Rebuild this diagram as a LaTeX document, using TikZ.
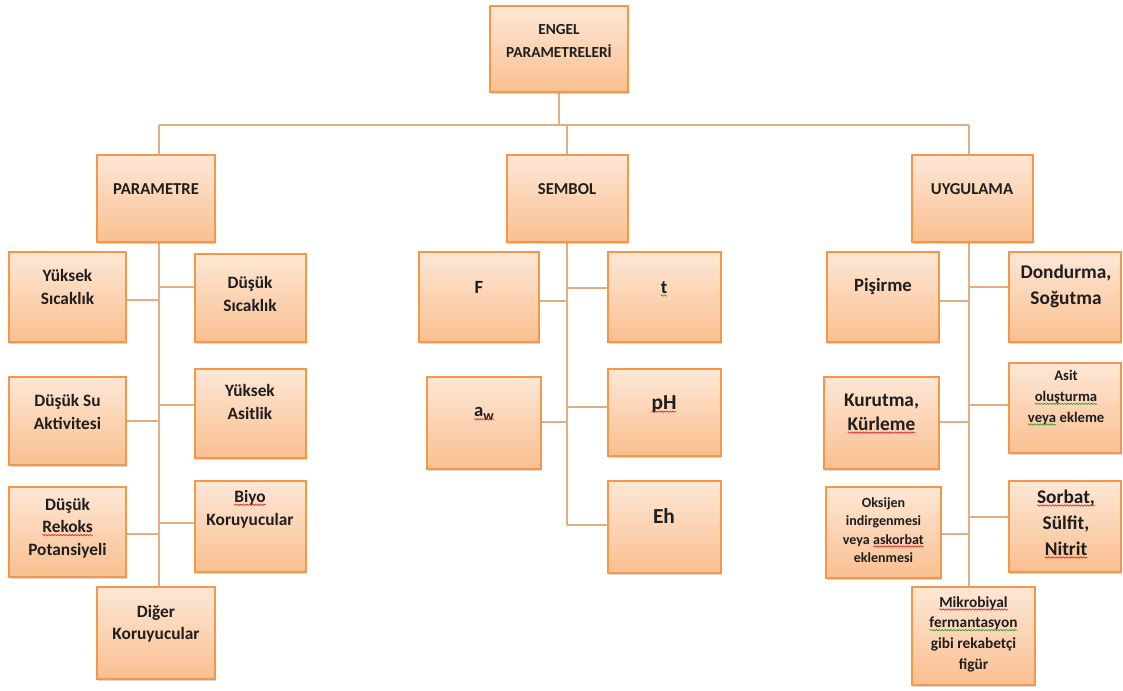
\documentclass[tikz,border=0pt]{standalone}
\usepackage{fontspec}
\setmainfont{Carlito}
\usetikzlibrary{shadows,calc,backgrounds,decorations.pathmorphing}
\definecolor{bord}{HTML}{F79646}
\definecolor{ftop}{HTML}{FDE7D6}
\definecolor{fbot}{HTML}{FABF8F}
\definecolor{lncol}{HTML}{E3AE85}
\definecolor{txt}{HTML}{1E1E1E}
\definecolor{sqred}{HTML}{E0262A}
\definecolor{sqgreen}{HTML}{3A9A2E}
\tikzset{
  bx/.style={rectangle, draw=bord, line width=1.1pt, top color=ftop, bottom color=fbot, inner sep=0pt,
    drop shadow={shadow xshift=0.6pt, shadow yshift=-1.8pt, opacity=0.3}},
  lbl/.style={text=txt, align=center, inner sep=0pt},
  ln/.style={draw=lncol, line width=1.5pt},
}
\newcommand\mybox[5]{\node[bx, minimum width={(#4-#2)*0.75pt}, minimum height={(#5-#3)*0.75pt}] (#1) at ({(#2+#4)/2},{(#3+#5)/2}) {};}
\newcommand\mytext[6]{\node[lbl, font=\bfseries\fontsize{#4}{#5}\selectfont] (#1) at (#2,#3) {#6};}
\newcommand\sq[2][sqred]{\tikz[baseline=(w.base)]{\node[inner sep=0pt,outer sep=0pt,anchor=base](w){#2};\draw[#1,line width=0.5pt,decorate,decoration={snake,amplitude=0.5pt,segment length=2.2pt}]([yshift=-1.8pt]w.base west)--([yshift=-1.8pt]w.base east);}}
\begin{document}
\begin{tikzpicture}[x=0.75pt,y=-0.75pt]
\useasboundingbox (0,0) rectangle (1123,691);
% boxes
\mybox{root}{490}{6}{628}{92}
\mybox{param}{97}{155}{215}{242}
\mybox{sembol}{507}{155}{628}{242}
\mybox{uyg}{912}{155}{1033}{242}
\mybox{ys}{9}{252}{126}{342}
\mybox{ds}{195}{254}{306}{342}
\mybox{dsu}{9}{377}{126}{465}
\mybox{ya}{195}{369}{306}{458}
\mybox{dr}{9}{487}{126}{577}
\mybox{bk}{195}{481}{306}{572}
\mybox{dk}{97}{587}{215}{679}
\mybox{F}{419}{252}{539}{342}
\mybox{t}{608}{252}{721}{342}
\mybox{aw}{427}{377}{541}{469}
\mybox{ph}{608}{369}{721}{456}
\mybox{eh}{608}{481}{721}{573}
\mybox{pis}{827}{252}{939}{342}
\mybox{don}{1009}{252}{1121}{342}
\mybox{kur}{824}{377}{939}{469}
\mybox{asit}{1009}{363}{1121}{453}
\mybox{oks}{826}{487}{941}{578}
\mybox{sor}{1009}{481}{1121}{572}
\mybox{mik}{912}{587}{1035}{685}
% texts
\mytext{troot}{559}{41}{11.5}{17}{ENGEL\\PARAMETRELERİ}
\mytext{tparam}{156}{189}{12.5}{17}{PARAMETRE}
\mytext{tsembol}{567}{189}{12.5}{17}{SEMBOL}
\mytext{tuyg}{972}{189}{12.5}{17}{UYGULAMA}
\mytext{tys}{67.5}{287}{13}{17}{Yüksek\\Sıcaklık}
\mytext{tds}{250}{294}{13}{17}{Düşük\\Sıcaklık}
\mytext{tdsu}{67.5}{412}{13}{17}{Düşük Su\\Aktivitesi}
\mytext{tya}{250}{402}{13}{17}{Yüksek\\Asitlik}
\mytext{tdr}{67.5}{528}{13}{17}{Düşük\\\sq{Rekoks}\\Potansiyeli}
\mytext{tbk}{250}{509}{13}{17}{\sq{Biyo}\\Koruyucular}
\mytext{tdk}{156}{624}{13}{16.5}{Diğer\\Koruyucular}
\mytext{tF}{479}{287}{14}{17}{F}
\mytext{tt}{664}{289}{14}{17}{\sq[sqgreen]{t}}
\mytext{taw}{484}{414}{14}{17}{\sq{a\raisebox{-2.5pt}{\fontsize{10.5}{12}\selectfont w}}}
\mytext{tph}{664}{404}{16}{17}{\sq{pH}}
\mytext{teh}{664}{516}{16}{17}{Eh}
\mytext{tpis}{883}{287}{14}{17}{Pişirme}
\mytext{tdon}{1066}{286}{14.5}{19.5}{Dondurma,\\Soğutma}
\mytext{tkur}{881.5}{414}{14.5}{17.5}{Kurutma,\\\sq{Kürleme}}
\mytext{tasit}{1066}{398}{11}{15.5}{Asit\\\sq[sqgreen]{oluşturma}\\\sq[sqgreen]{veya} ekleme}
\mytext{toks}{883.5}{530}{10.5}{13.8}{Oksijen\\indirgenmesi\\veya \sq{askorbat}\\eklenmesi}
\mytext{tsor}{1066}{524}{14.5}{19.5}{\sq{Sorbat,}\\Sülfit,\\\sq{Nitrit}}
\mytext{tmik}{973.5}{634}{11.5}{15.5}{\sq{Mikrobiyal}\\\sq[sqgreen]{fermantasyon}\\gibi rekabetçi\\figür}
% connectors
\coordinate (pT) at (159,125);
\coordinate (sT) at (567,125);
\coordinate (uT) at (969,125);
\begin{pgfonlayer}{background}
\draw[ln] (pT) -- (uT);
\draw[ln] (root.south) -- (root.south |- pT);
\draw[ln] (pT) -- (pT |- dk.north);
\draw[ln] (sT) -- (sT |- 0,525);
\draw[ln] (uT) -- (uT |- mik.north);
\draw[ln] (ys.east |- 0,300) -- (pT |- 0,300);
\draw[ln] (ds.west |- 0,287) -- (pT |- 0,287);
\draw[ln] (dsu.east |- 0,421) -- (pT |- 0,421);
\draw[ln] (ya.west |- 0,405) -- (pT |- 0,405);
\draw[ln] (dr.east |- 0,534) -- (pT |- 0,534);
\draw[ln] (bk.west |- 0,523) -- (pT |- 0,523);
\draw[ln] (F.east |- 0,301) -- (sT |- 0,301);
\draw[ln] (t.west |- 0,288) -- (sT |- 0,288);
\draw[ln] (aw.east |- 0,422) -- (sT |- 0,422);
\draw[ln] (ph.west |- 0,407) -- (sT |- 0,407);
\draw[ln] (eh.west |- 0,525) -- (sT |- 0,525);
\draw[ln] (pis.east |- 0,301) -- (uT |- 0,301);
\draw[ln] (don.west |- 0,287) -- (uT |- 0,287);
\draw[ln] (kur.east |- 0,422) -- (uT |- 0,422);
\draw[ln] (asit.west |- 0,405) -- (uT |- 0,405);
\draw[ln] (oks.east |- 0,534) -- (uT |- 0,534);
\draw[ln] (sor.west |- 0,517) -- (uT |- 0,517);
\end{pgfonlayer}
\end{tikzpicture}
\end{document}
